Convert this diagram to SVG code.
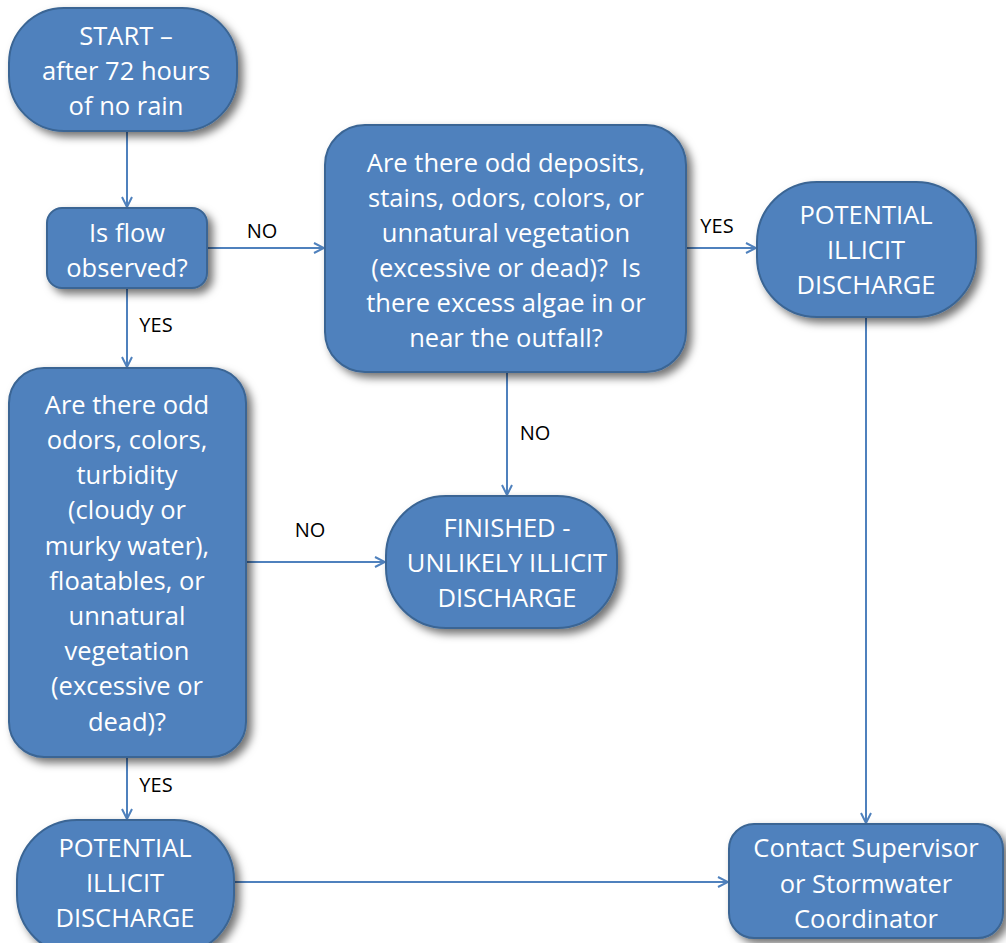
<svg xmlns="http://www.w3.org/2000/svg" width="1006" height="943" viewBox="0 0 1006 943">
<defs>
<filter id="sh" x="-20%" y="-20%" width="150%" height="150%">
<feDropShadow dx="5" dy="5" stdDeviation="4" flood-color="#000" flood-opacity="0.55"/>
</filter>
<marker id="ar" viewBox="0 0 12 12" refX="11" refY="6" markerWidth="12" markerHeight="12" markerUnits="userSpaceOnUse" orient="auto">
<path d="M1,1 L11,6 L1,11" fill="none" stroke="#4F81BD" stroke-width="2"/>
</marker>
<style>
.n{fill:#4F81BD;stroke:#3A6594;stroke-width:2;filter:url(#sh)}
.t{fill:#fff;font-family:"Open Sans","Liberation Sans",Arial,sans-serif;font-size:25.5px;text-anchor:middle;white-space:pre}
.l{fill:#000;font-family:"Open Sans","Liberation Sans",Arial,sans-serif;font-size:20px;text-anchor:middle}
.c{fill:none;stroke:#4F81BD;stroke-width:2;marker-end:url(#ar)}
</style>
</defs>
<g id="connectors">
<path class="c" d="M127,131 L127,207"/>
<path class="c" d="M207,248 L324,248"/>
<path class="c" d="M127,288 L127,367"/>
<path class="c" d="M686,248 L756,248"/>
<path class="c" d="M507,372 L507,495"/>
<path class="c" d="M246,562 L385,562"/>
<path class="c" d="M127,757 L127,819"/>
<path class="c" d="M866,317 L866,823"/>
<path class="c" d="M234,882 L728,882"/>
<text class="l" x="262" y="238">NO</text>
<text class="l" x="156" y="332">YES</text>
<text class="l" x="717" y="233">YES</text>
<text class="l" x="535" y="440">NO</text>
<text class="l" x="310" y="537">NO</text>
<text class="l" x="156" y="792">YES</text>
</g>
<g id="start">
<rect class="n" x="9" y="8" width="228" height="123" rx="55" ry="55"/>
<text class="t" x="126" y="45">START –</text>
<text class="t" x="126" y="80">after 72 hours</text>
<text class="t" x="126" y="115">of no rain</text>
</g>
<g id="flow">
<rect class="n" x="47" y="208" width="160" height="80" rx="15" ry="15"/>
<text class="t" x="127" y="242">Is flow</text>
<text class="t" x="127" y="277">observed?</text>
</g>
<g id="q1">
<rect class="n" x="325" y="125" width="361" height="247" rx="40" ry="40"/>
<text class="t" x="506" y="172">Are there odd deposits,</text>
<text class="t" x="506" y="207">stains, odors, colors, or</text>
<text class="t" x="506" y="242">unnatural vegetation</text>
<text class="t" x="506" y="277" xml:space="preserve">(excessive or dead)?  Is</text>
<text class="t" x="506" y="312">there excess algae in or</text>
<text class="t" x="506" y="347">near the outfall?</text>
</g>
<g id="pot1">
<rect class="n" x="757" y="182" width="219" height="135" rx="60" ry="60"/>
<text class="t" x="866" y="224">POTENTIAL</text>
<text class="t" x="866" y="259">ILLICIT</text>
<text class="t" x="866" y="294">DISCHARGE</text>
</g>
<g id="q2">
<rect class="n" x="9" y="368" width="237" height="389" rx="35" ry="35"/>
<text class="t" x="127" y="414">Are there odd</text>
<text class="t" x="127" y="449">odors, colors,</text>
<text class="t" x="127" y="484">turbidity</text>
<text class="t" x="127" y="519">(cloudy or</text>
<text class="t" x="127" y="555">murky water),</text>
<text class="t" x="127" y="590">floatables, or</text>
<text class="t" x="127" y="625">unnatural</text>
<text class="t" x="127" y="660">vegetation</text>
<text class="t" x="127" y="695">(excessive or</text>
<text class="t" x="127" y="731">dead)?</text>
</g>
<g id="finished">
<rect class="n" x="386" y="496" width="231" height="132" rx="60" ry="60"/>
<text class="t" x="507" y="537">FINISHED -</text>
<text class="t" x="507" y="572">UNLIKELY ILLICIT</text>
<text class="t" x="507" y="607">DISCHARGE</text>
</g>
<g id="pot2">
<rect class="n" x="17" y="820" width="217" height="135" rx="60" ry="60"/>
<text class="t" x="125" y="857">POTENTIAL</text>
<text class="t" x="125" y="892">ILLICIT</text>
<text class="t" x="125" y="927">DISCHARGE</text>
</g>
<g id="contact">
<rect class="n" x="729" y="824" width="274" height="114" rx="25" ry="25"/>
<text class="t" x="866" y="857">Contact Supervisor</text>
<text class="t" x="866" y="893">or Stormwater</text>
<text class="t" x="866" y="928">Coordinator</text>
</g>
</svg>
